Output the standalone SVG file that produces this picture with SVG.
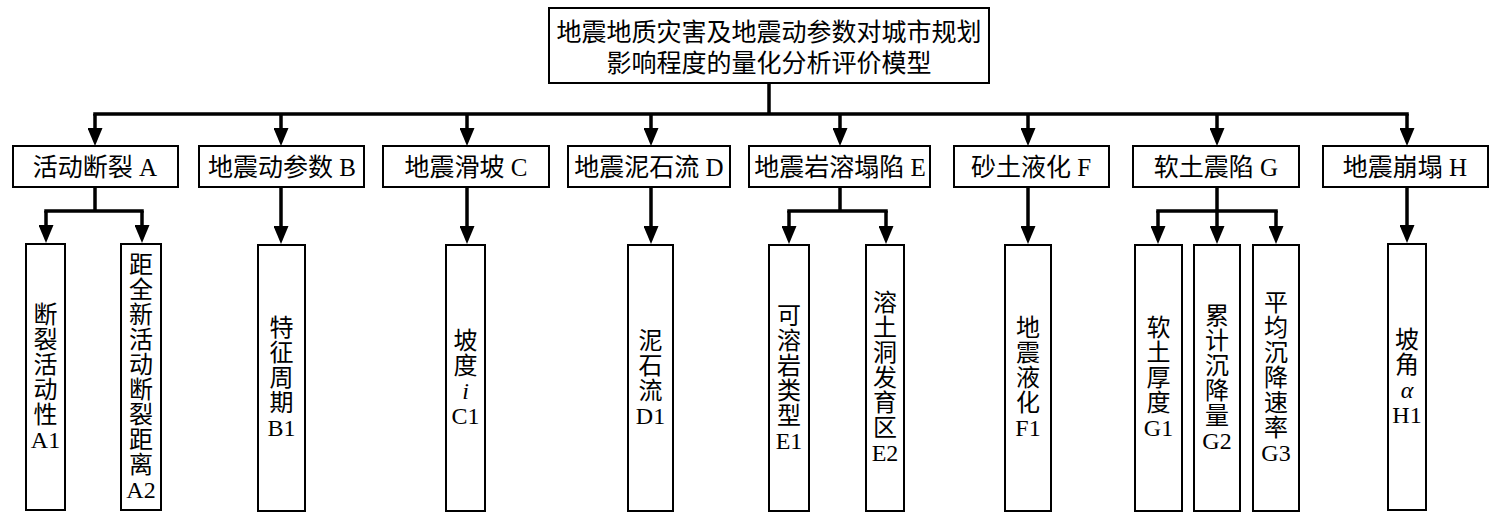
<svg xmlns="http://www.w3.org/2000/svg" width="1494" height="519" viewBox="0 0 1494 519">
<defs>
<style>
.box{fill:#fff;stroke:#000;stroke-width:2}
.t{font-family:"Liberation Serif","Noto Sans CJK SC",serif;fill:#000;text-anchor:middle;dominant-baseline:central}
.t1{font-size:25px}
.t2{font-size:25px}
.t3{font-size:24px}
.c{fill:none;stroke:#000;stroke-width:3.5;stroke-linecap:square}
.a{fill:none;stroke:#000;stroke-width:3.5;marker-end:url(#arr)}
</style>
<marker id="arr" markerUnits="userSpaceOnUse" viewBox="0 -7.5 18 15" refX="10" refY="0" markerWidth="18" markerHeight="15" orient="auto">
<path d="M0,-7.5 L18,0 L0,7.5 Z" fill="#000"/>
</marker>
</defs>
<rect width="1494" height="519" fill="#fff"/>
<g id="connectors">
<path class="c" d="M769,83 V114 M95,114 H1407"/>
<path class="a" d="M95,114 V138"/>
<path class="a" d="M281,114 V138"/>
<path class="a" d="M467,114 V138"/>
<path class="a" d="M651,114 V138"/>
<path class="a" d="M840,114 V138"/>
<path class="a" d="M1028,114 V138"/>
<path class="a" d="M1217,114 V138"/>
<path class="a" d="M1407,114 V138"/>
<path class="c" d="M95,187 V211 M46,211 H142"/>
<path class="a" d="M46,211 V235"/>
<path class="a" d="M142,211 V235"/>
<path class="a" d="M281,187 V236"/>
<path class="a" d="M467,187 V236"/>
<path class="a" d="M651,187 V236"/>
<path class="c" d="M840,187 V211 M789,211 H886"/>
<path class="a" d="M789,211 V236"/>
<path class="a" d="M886,211 V236"/>
<path class="a" d="M1028,187 V236"/>
<path class="c" d="M1217,187 V211 M1158,211 H1276"/>
<path class="a" d="M1158,211 V236"/>
<path class="a" d="M1217,211 V236"/>
<path class="a" d="M1276,211 V236"/>
<path class="a" d="M1407,187 V235"/>
</g>
<g id="root">
<rect class="box" x="549" y="8" width="440" height="75"/>
<text class="t t1" x="769" y="32">地震地质灾害及地震动参数对城市规划</text>
<text class="t t1" x="769" y="63">影响程度的量化分析评价模型</text>
</g>
<g id="A"><rect class="box" x="13" y="146" width="165" height="41"/><text class="t t2" x="95" y="167">活动断裂 A</text></g>
<g id="B"><rect class="box" x="199" y="146" width="165" height="41"/><text class="t t2" x="282" y="167">地震动参数 B</text></g>
<g id="C"><rect class="box" x="383" y="146" width="166" height="41"/><text class="t t2" x="466" y="167">地震滑坡 C</text></g>
<g id="D"><rect class="box" x="568" y="146" width="162" height="41"/><text class="t t2" x="649" y="167">地震泥石流 D</text></g>
<g id="E"><rect class="box" x="749" y="146" width="181" height="41"/><text class="t t2" x="840" y="167">地震岩溶塌陷 E</text></g>
<g id="F"><rect class="box" x="954" y="146" width="155" height="41"/><text class="t t2" x="1031" y="167">砂土液化 F</text></g>
<g id="G"><rect class="box" x="1133" y="146" width="166" height="41"/><text class="t t2" x="1216" y="167">软土震陷 G</text></g>
<g id="H"><rect class="box" x="1323" y="146" width="165" height="41"/><text class="t t2" x="1405" y="167">地震崩塌 H</text></g>
<g id="A1"><rect class="box" x="26" y="244" width="39" height="266"/>
<text class="t t3" x="45.5" y="314.5"><tspan x="45.5">断</tspan><tspan x="45.5" dy="25">裂</tspan><tspan x="45.5" dy="25">活</tspan><tspan x="45.5" dy="25">动</tspan><tspan x="45.5" dy="25">性</tspan><tspan x="45.5" dy="25">A1</tspan></text></g>
<g id="A2"><rect class="box" x="121" y="244" width="40" height="266"/>
<text class="t t3" x="141" y="264.5"><tspan x="141">距</tspan><tspan x="141" dy="25">全</tspan><tspan x="141" dy="25">新</tspan><tspan x="141" dy="25">活</tspan><tspan x="141" dy="25">动</tspan><tspan x="141" dy="25">断</tspan><tspan x="141" dy="25">裂</tspan><tspan x="141" dy="25">距</tspan><tspan x="141" dy="25">离</tspan><tspan x="141" dy="25">A2</tspan></text></g>
<g id="B1"><rect class="box" x="258" y="245" width="47" height="266"/>
<text class="t t3" x="281.5" y="328"><tspan x="281.5">特</tspan><tspan x="281.5" dy="25">征</tspan><tspan x="281.5" dy="25">周</tspan><tspan x="281.5" dy="25">期</tspan><tspan x="281.5" dy="25">B1</tspan></text></g>
<g id="C1"><rect class="box" x="446" y="245" width="39" height="266"/>
<text class="t t3" x="465.5" y="340.5"><tspan x="465.5">坡</tspan><tspan x="465.5" dy="25">度</tspan><tspan x="465.5" dy="25" font-style="italic">i</tspan><tspan x="465.5" dy="25">C1</tspan></text></g>
<g id="D1"><rect class="box" x="628" y="245" width="45" height="266"/>
<text class="t t3" x="650.5" y="340.5"><tspan x="650.5">泥</tspan><tspan x="650.5" dy="25">石</tspan><tspan x="650.5" dy="25">流</tspan><tspan x="650.5" dy="25">D1</tspan></text></g>
<g id="E1"><rect class="box" x="769" y="245" width="40" height="266"/>
<text class="t t3" x="789" y="315.5"><tspan x="789">可</tspan><tspan x="789" dy="25">溶</tspan><tspan x="789" dy="25">岩</tspan><tspan x="789" dy="25">类</tspan><tspan x="789" dy="25">型</tspan><tspan x="789" dy="25">E1</tspan></text></g>
<g id="E2"><rect class="box" x="866" y="245" width="38" height="266"/>
<text class="t t3" x="885" y="303"><tspan x="885">溶</tspan><tspan x="885" dy="25">土</tspan><tspan x="885" dy="25">洞</tspan><tspan x="885" dy="25">发</tspan><tspan x="885" dy="25">育</tspan><tspan x="885" dy="25">区</tspan><tspan x="885" dy="25">E2</tspan></text></g>
<g id="F1"><rect class="box" x="1005" y="245" width="46" height="266"/>
<text class="t t3" x="1028" y="328"><tspan x="1028">地</tspan><tspan x="1028" dy="25">震</tspan><tspan x="1028" dy="25">液</tspan><tspan x="1028" dy="25">化</tspan><tspan x="1028" dy="25">F1</tspan></text></g>
<g id="G1"><rect class="box" x="1135" y="245" width="47" height="266"/>
<text class="t t3" x="1158.5" y="328"><tspan x="1158.5">软</tspan><tspan x="1158.5" dy="25">土</tspan><tspan x="1158.5" dy="25">厚</tspan><tspan x="1158.5" dy="25">度</tspan><tspan x="1158.5" dy="25">G1</tspan></text></g>
<g id="G2"><rect class="box" x="1194" y="245" width="46" height="266"/>
<text class="t t3" x="1217" y="315.5"><tspan x="1217">累</tspan><tspan x="1217" dy="25">计</tspan><tspan x="1217" dy="25">沉</tspan><tspan x="1217" dy="25">降</tspan><tspan x="1217" dy="25">量</tspan><tspan x="1217" dy="25">G2</tspan></text></g>
<g id="G3"><rect class="box" x="1253" y="245" width="46" height="266"/>
<text class="t t3" x="1276" y="303"><tspan x="1276">平</tspan><tspan x="1276" dy="25">均</tspan><tspan x="1276" dy="25">沉</tspan><tspan x="1276" dy="25">降</tspan><tspan x="1276" dy="25">速</tspan><tspan x="1276" dy="25">率</tspan><tspan x="1276" dy="25">G3</tspan></text></g>
<g id="H1"><rect class="box" x="1388" y="244" width="38" height="266"/>
<text class="t t3" x="1407" y="339.5"><tspan x="1407">坡</tspan><tspan x="1407" dy="25">角</tspan><tspan x="1407" dy="25" font-style="italic">α</tspan><tspan x="1407" dy="25">H1</tspan></text></g>
</svg>
